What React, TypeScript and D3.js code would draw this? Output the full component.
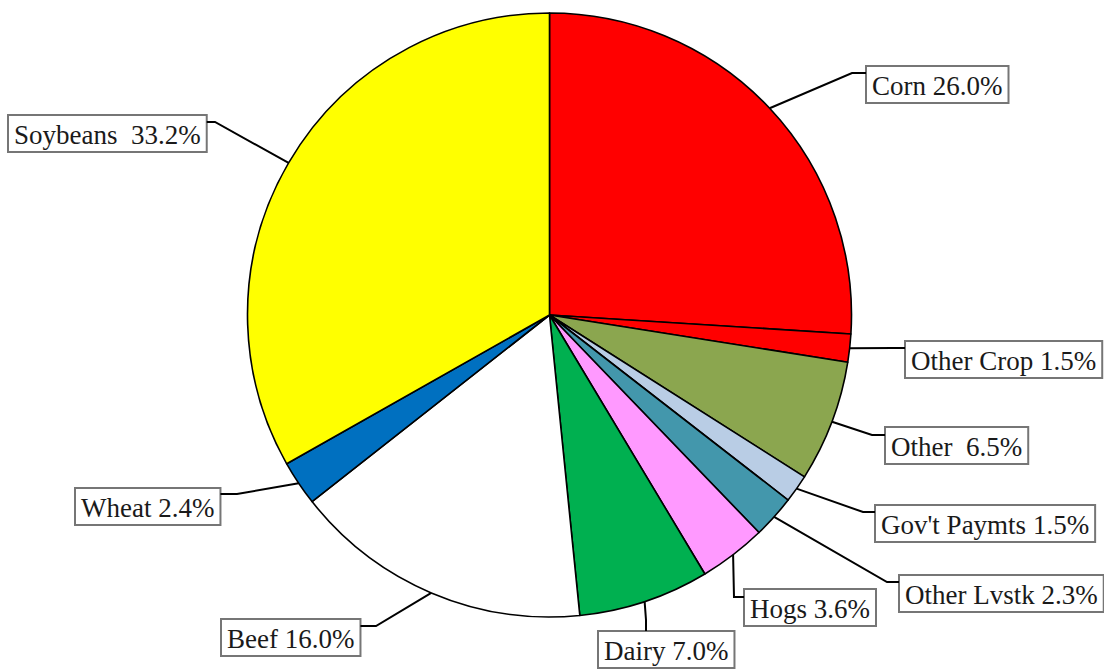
import React, { useEffect, useRef } from "react";
import * as d3 from "d3";

const categories = ["Corn", "Other Crop", "Other", "Gov't Paymts", "Other Lvstk", "Hogs", "Dairy", "Beef", "Wheat", "Soybeans"];
const values = [26.0, 1.5, 6.5, 1.5, 2.3, 3.6, 7.0, 16.0, 2.4, 33.2];
const labelTexts = ["Corn 26.0%", "Other Crop 1.5%", "Other  6.5%", "Gov't Paymts 1.5%", "Other Lvstk 2.3%", "Hogs 3.6%", "Dairy 7.0%", "Beef 16.0%", "Wheat 2.4%", "Soybeans  33.2%"];
const colors = ["#FF0000", "#FF0000", "#8BA64F", "#B9CDE5", "#4397AC", "#FF99FF", "#00B050", "#FFFFFF", "#0070C0", "#FFFF00"];

// label layout: box top-left, elbow point, side of box the leader attaches to
const labelLayout = [
  { bx: 866, by: 66, ex: 852, ey: 73, side: "left" },
  { bx: 905, by: 341, ex: 893, ey: 348, side: "left" },
  { bx: 885, by: 427, ex: 872, ey: 435, side: "left" },
  { bx: 875, by: 505, ex: 863, ey: 512, side: "left" },
  { bx: 899, by: 575, ex: 887, ey: 582, side: "left" },
  { bx: 744, by: 589, ex: 734, ey: 597, side: "left" },
  { bx: 598, by: 631, ex: 646, ey: 620, side: "top" },
  { bx: 221, by: 619, ex: 376, ey: 626, side: "right" },
  { bx: 75, by: 488, ex: 237, ey: 494, side: "right" },
  { bx: 8, by: 115, ex: 215, ey: 122, side: "right" },
];

const W = 1104, H = 669;
const CX = 549.5, CY = 315, R = 302;

export default function App() {
  const ref = useRef<SVGSVGElement>(null);
  useEffect(() => {
    const svg = d3.select(ref.current);
    svg.selectAll("*").remove();
    const data = categories.map((c, i) => ({ c, v: values[i], i }));
    const pie = d3.pie<any>().value((d) => d.v).sort(null);
    const arcs = pie(data);
    const arc = d3.arc<any>().innerRadius(0).outerRadius(R);
    const g = svg.append("g").attr("transform", `translate(${CX},${CY})`);
    g.selectAll("path").data(arcs).enter().append("path")
      .attr("d", arc as any)
      .attr("fill", (d: any) => colors[d.data.i])
      .attr("stroke", "#000")
      .attr("stroke-width", 1.6)
      .attr("stroke-linejoin", "round");

    const fontSize = 27;
    arcs.forEach((a: any, i: number) => {
      const L = labelLayout[i];
      const mid = (a.startAngle + a.endAngle) / 2;
      const ax = CX + R * Math.sin(mid);
      const ay = CY - R * Math.cos(mid);
      const lg = svg.append("g");
      const t = lg.append("text")
        .attr("x", L.bx + 6)
        .attr("y", L.by + 29)
        .attr("font-family", "'Liberation Serif', 'Times New Roman', serif")
        .attr("font-size", fontSize)
        .attr("fill", "#1a1a1a")
        .style("white-space", "pre")
        .text(labelTexts[i]);
      const tw = (t.node() as SVGTextElement).getComputedTextLength();
      const bw = tw + 12;
      const bh = 37;
      lg.insert("rect", "text")
        .attr("x", L.bx).attr("y", L.by).attr("width", bw).attr("height", bh)
        .attr("fill", "#fff").attr("stroke", "#767676").attr("stroke-width", 2);
      let endX = L.bx, endY = L.ey;
      if (L.side === "right") { endX = L.bx + bw; endY = L.ey; }
      if (L.side === "top") { endX = L.ex; endY = L.by; }
      const pts: [number, number][] = [[ax, ay], [L.ex, L.ey], [endX, endY]];
      svg.append("path")
        .attr("d", d3.line()(pts) as string)
        .attr("fill", "none")
        .attr("stroke", "#000")
        .attr("stroke-width", 2);
    });
  }, []);
  return (
    <svg ref={ref} width={W} height={H} style={{ position: "absolute", left: 0, top: 0, background: "#fff" }} />
  );
}
